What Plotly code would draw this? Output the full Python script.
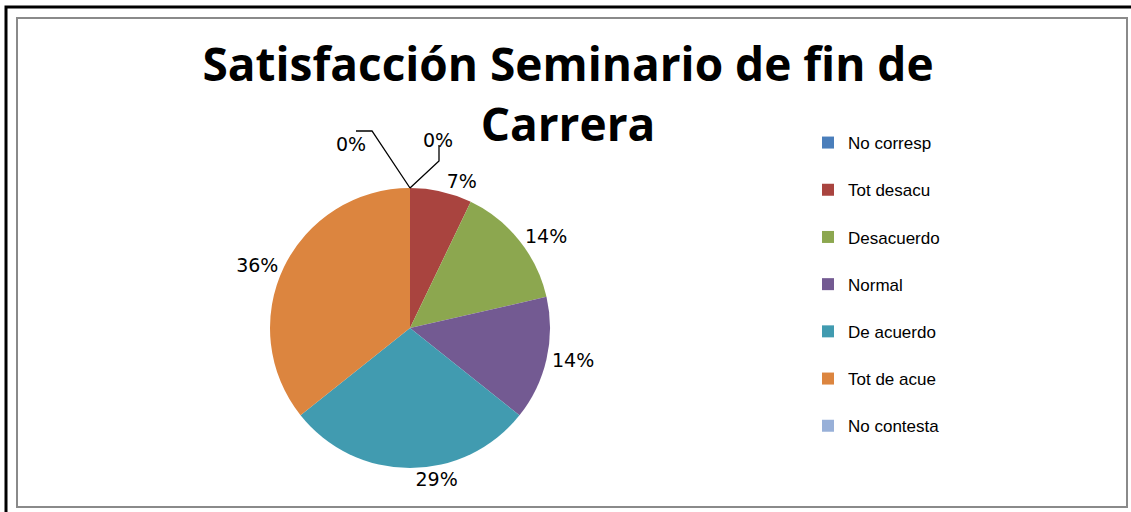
import plotly.graph_objects as go

categories = ["No corresp", "Tot desacu", "Desacuerdo", "Normal", "De acuerdo", "Tot de acue", "No contesta"]
counts = [0, 1, 2, 2, 4, 5, 0]
colors = ["#4A7EBB", "#A9443F", "#8CA74F", "#735A92", "#419BB0", "#DC853F", "#98B0D8"]
title_text = "Satisfacción Seminario de fin de<br>Carrera"

W, H = 1131, 512


def px(x):
    return x / W


def py(y):
    return 1 - y / H


legend_labels = [c + "<br> " for c in categories]
text_pos = ["none" if v == 0 else "outside" for v in counts]

fig = go.Figure(go.Pie(
    labels=legend_labels,
    values=counts,
    sort=False,
    direction="clockwise",
    rotation=0,
    marker=dict(colors=colors, line=dict(width=0)),
    textposition=text_pos,
    texttemplate="%{percent:.0%}",
    textfont=dict(family="DejaVu Sans", size=19, color="#000000"),
    domain=dict(x=[px(265), px(555)], y=[py(468), py(188)]),
    showlegend=True,
    hoverinfo="skip",
))

# zero-value slice labels (shown with leader lines)
zero_font = dict(family="DejaVu Sans", size=19, color="#000")
fig.add_annotation(x=px(334), y=py(131), xref="paper", yref="paper", text="0%", showarrow=False,
                   font=zero_font)
fig.add_annotation(x=px(438), y=py(127), xref="paper", yref="paper", text="0%", showarrow=False,
                   font=zero_font)

shapes = [
    dict(type="rect", xref="paper", yref="paper", x0=px(6), y0=py(530), x1=px(1150), y1=py(7),
         line=dict(color="#000000", width=3)),
    dict(type="rect", xref="paper", yref="paper", x0=px(17), y0=py(507), x1=px(1127), y1=py(18),
         line=dict(color="#8A8A8A", width=2)),
    dict(type="path", xref="paper", yref="paper",
         path=f"M {px(356)} {py(131)} L {px(372)} {py(131)} L {px(410)} {py(188)}",
         line=dict(color="#000", width=1.3)),
    dict(type="path", xref="paper", yref="paper",
         path=f"M {px(410)} {py(188)} L {px(439)} {py(161)} L {px(439)} {py(145)}",
         line=dict(color="#000", width=1.3)),
]

fig.update_layout(
    width=W, height=H,
    margin=dict(l=0, r=0, t=0, b=0),
    paper_bgcolor="#FFFFFF",
    title=dict(text=title_text, x=px(568), xanchor="center", y=py(81), yanchor="top",
               font=dict(family="Open Sans", size=46, color="#000000", weight="bold")),
    legend=dict(x=px(808), xanchor="left", y=py(125), yanchor="top", valign="top",
                font=dict(family="Liberation Sans", size=17, color="#000000"),
                itemwidth=30, bgcolor="rgba(0,0,0,0)"),
    shapes=shapes,
)

fig.write_html("out.html", config={"displayModeBar": False},
               post_script="document.body.style.margin='0px';")
